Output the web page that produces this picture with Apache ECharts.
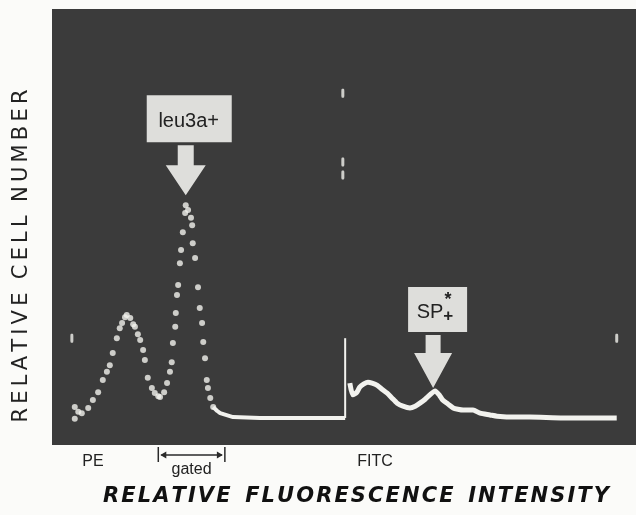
<!DOCTYPE html>
<html>
<head>
<meta charset="utf-8">
<script src="https://cdn.jsdelivr.net/npm/echarts@6/dist/echarts.min.js"></script>
<style>
html, body { margin: 0; padding: 0; background: #fbfbf9; }
#content { width: 636px; height: 515px; }
</style>
</head>
<body>
<div id="content"></div>
<script>
// PE histogram (dotted trace), channel 0-100 vs relative count
var peChannel = [3.9, 3.9, 4.5, 5.1, 6.2, 7.0, 7.9, 8.7, 9.4, 9.9, 10.4, 11.1, 11.6, 12.0, 12.5, 12.8,
  13.4, 13.9, 14.2, 14.7, 15.1, 15.6, 15.9, 16.4, 17.1, 17.6, 18.2, 18.5, 19.2, 19.7, 20.2, 20.5,
  20.7, 21.1, 21.2, 21.4, 21.6, 21.9, 22.1, 22.4, 22.8, 22.9, 23.3, 23.8, 24.0, 24.1, 24.5, 25.0,
  25.3, 25.7, 25.9, 26.2, 26.5, 26.7, 27.1, 27.6];
var peCount = [0, 2.7, 1.6, 1.3, 2.5, 4.3, 6.1, 8.9, 10.8, 12.3, 15.1, 18.5, 20.8, 22.0, 23.3, 23.8,
  23.1, 21.7, 21.1, 19.4, 18.1, 15.8, 13.5, 9.4, 7.1, 5.9, 5.2, 5.0, 6.1, 8.2, 10.8, 13.0,
  17.4, 21.1, 24.3, 28.4, 30.7, 35.7, 38.7, 42.8, 47.2, 49.0, 47.9, 46.1, 44.4, 40.3, 36.9, 30.2,
  25.4, 22.0, 17.6, 13.9, 8.9, 7.1, 4.8, 2.7];

// flat tail of the PE trace
var baseChannel = [27.6, 28.3, 28.8, 31.0, 35.6, 42.5, 50.2];
var baseCount = [2.7, 1.8, 1.3, 0.4, 0.2, 0.2, 0.2];

// FITC histogram (continuous trace)
var fitcChannel = [51.0, 51.5, 52.2, 52.7, 53.4, 54.1, 54.8, 55.7, 56.5, 57.4, 58.2, 59.1, 60.1, 61.3,
  62.2, 63.0, 63.9, 64.7, 65.6, 66.3, 66.9, 67.8, 68.7, 69.5, 70.4, 71.2, 72.1, 73.3, 75.0, 76.2,
  79.3, 81.8, 87.5, 92.1, 96.7];
var fitcCount = [8.2, 5.5, 6.1, 7.3, 8.0, 8.4, 8.2, 7.7, 6.8, 5.9, 4.8, 3.6, 2.9, 2.5,
  2.9, 3.6, 4.5, 5.5, 6.4, 5.5, 4.3, 3.4, 2.5, 2.2, 2.0, 2.0, 2.0, 1.3, 0.9, 0.6,
  0.4, 0.4, 0.2, 0.2, 0.2];

// scale marker dots and the PE/FITC divider
var markChannel = [3.4, 49.8, 49.8, 49.8, 96.7];
var markCount = [18.5, 74.7, 58.9, 55.9, 18.5];
var dividerChannel = [50.2, 50.2];
var dividerCount = [0.2, 18.5];

var gateRange = [18.2, 29.6];
var peLabelAt = 7.0;
var fitcLabelAt = 55.3;
var leuPeak = [22.9, 49.0];
var spPeak = [65.6, 6.4];

function pairs(xs, ys) {
  return xs.map(function (x, i) { return [x, ys[i]]; });
}

// spread letters out like the original lettering
function spaced(s, gap, wordGap) {
  return s.split(' ').map(function (w) { return w.split('').join(gap); }).join(wordGap);
}

var trace = '#f2f2ee';
var chart = echarts.init(document.getElementById('content'));
chart.setOption({
  animation: false,
  grid: { left: 52, right: 0, top: 9, bottom: 70, show: true, backgroundColor: '#3b3b3b', borderWidth: 0 },
  xAxis: {
    type: 'value', min: 0, max: 100,
    axisLine: { show: false }, axisTick: { show: false }, axisLabel: { show: false }, splitLine: { show: false }
  },
  yAxis: {
    type: 'value', min: -6, max: 94,
    axisLine: { show: false }, axisTick: { show: false }, axisLabel: { show: false }, splitLine: { show: false }
  },
  series: [
    {
      type: 'scatter', data: pairs(peChannel, peCount),
      symbol: 'circle', symbolSize: 6, itemStyle: { color: trace }
    },
    {
      type: 'line', data: pairs(baseChannel, baseCount), symbol: 'none',
      lineStyle: { color: trace, width: 4 }
    },
    {
      type: 'line', data: pairs(dividerChannel, dividerCount), symbol: 'none',
      lineStyle: { color: trace, width: 2 }
    },
    {
      type: 'line', data: pairs(fitcChannel, fitcCount), symbol: 'none', smooth: 0.2,
      lineStyle: { color: trace, width: 5 }
    },
    {
      type: 'scatter', data: pairs(markChannel, markCount),
      symbol: 'roundRect', symbolSize: [3, 9], itemStyle: { color: trace }
    }
  ]
});

function px(pt) { return chart.convertToPixel({ gridIndex: 0 }, pt); }

function arrowShape(tx, ty, shaftW, headW, headH, shaftH) {
  return [
    [tx - shaftW / 2, ty - headH - shaftH], [tx + shaftW / 2, ty - headH - shaftH],
    [tx + shaftW / 2, ty - headH], [tx + headW / 2, ty - headH],
    [tx, ty], [tx - headW / 2, ty - headH],
    [tx - shaftW / 2, ty - headH]
  ];
}

var boxFill = '#dededb';
var labelFont = { fontFamily: 'Liberation Sans', fill: '#222' };
var g = [];

// axis titles
g.push({ type: 'text', x: 22, y: 256, rotation: Math.PI / 2,
  style: { text: spaced('RELATIVE CELL NUMBER', '\u2009', '  '), fontFamily: 'DejaVu Sans', fontSize: 21,
    fill: '#222', align: 'center', verticalAlign: 'middle' } });
g.push({ type: 'text', x: 356, y: 497,
  style: { text: spaced('RELATIVE FLUORESCENCE INTENSITY', '\u200A', '  '), fontFamily: 'DejaVu Sans',
    fontWeight: 'bold', fontStyle: 'italic', fontSize: 21, fill: '#111', align: 'center', verticalAlign: 'middle' } });

// leu3a+ annotation
var lp = px(leuPeak);
var lt = [lp[0], lp[1] - 10];
g.push({ type: 'polygon', shape: { points: arrowShape(lt[0], lt[1], 16, 40, 30, 20) }, style: { fill: boxFill } });
g.push({ type: 'rect', shape: { x: lt[0] - 39, y: lt[1] - 100, width: 85, height: 47 }, style: { fill: boxFill } });
g.push({ type: 'text', x: lt[0] + 3, y: lt[1] - 74,
  style: Object.assign({ text: 'leu3a+', fontSize: 20, align: 'center', verticalAlign: 'middle' }, labelFont) });

// SP annotation
var sp = px(spPeak);
var st = [sp[0] - 2, sp[1] - 3];
g.push({ type: 'polygon', shape: { points: arrowShape(st[0], st[1], 15, 38, 35, 18) }, style: { fill: boxFill } });
g.push({ type: 'rect', shape: { x: st[0] - 25, y: st[1] - 101, width: 59, height: 45 }, style: { fill: boxFill } });
g.push({ type: 'text', x: st[0] - 3, y: st[1] - 75,
  style: Object.assign({ text: 'SP', fontSize: 20, align: 'center', verticalAlign: 'middle' }, labelFont) });
g.push({ type: 'text', x: st[0] + 15, y: st[1] - 88,
  style: Object.assign({ text: '*', fontSize: 18, fontWeight: 'bold', align: 'center', verticalAlign: 'middle' }, labelFont) });
g.push({ type: 'text', x: st[0] + 15, y: st[1] - 72,
  style: Object.assign({ text: '+', fontSize: 17, fontWeight: 'bold', align: 'center', verticalAlign: 'middle' }, labelFont) });

// channel labels under the panel
var pe = px([peLabelAt, 0]);
var fi = px([fitcLabelAt, 0]);
g.push({ type: 'text', x: pe[0], y: 462,
  style: Object.assign({ text: 'PE', fontSize: 16, align: 'center', verticalAlign: 'middle' }, labelFont) });
g.push({ type: 'text', x: fi[0], y: 462,
  style: Object.assign({ text: 'FITC', fontSize: 16, align: 'center', verticalAlign: 'middle' }, labelFont) });

// gated bracket
var ga = px([gateRange[0], 0])[0];
var gb = px([gateRange[1], 0])[0];
var lineStyle = { stroke: '#2a2a2a', lineWidth: 1.5 };
g.push({ type: 'line', shape: { x1: ga, y1: 447, x2: ga, y2: 462 }, style: lineStyle });
g.push({ type: 'line', shape: { x1: gb, y1: 447, x2: gb, y2: 462 }, style: lineStyle });
g.push({ type: 'line', shape: { x1: ga + 3, y1: 455, x2: gb - 3, y2: 455 }, style: lineStyle });
g.push({ type: 'polygon', shape: { points: [[ga + 2, 455], [ga + 8, 451.5], [ga + 8, 458.5]] }, style: { fill: '#2a2a2a' } });
g.push({ type: 'polygon', shape: { points: [[gb - 2, 455], [gb - 8, 451.5], [gb - 8, 458.5]] }, style: { fill: '#2a2a2a' } });
g.push({ type: 'text', x: (ga + gb) / 2, y: 470,
  style: Object.assign({ text: 'gated', fontSize: 16, align: 'center', verticalAlign: 'middle' }, labelFont) });

chart.setOption({ graphic: g });
</script>
</body>
</html>
